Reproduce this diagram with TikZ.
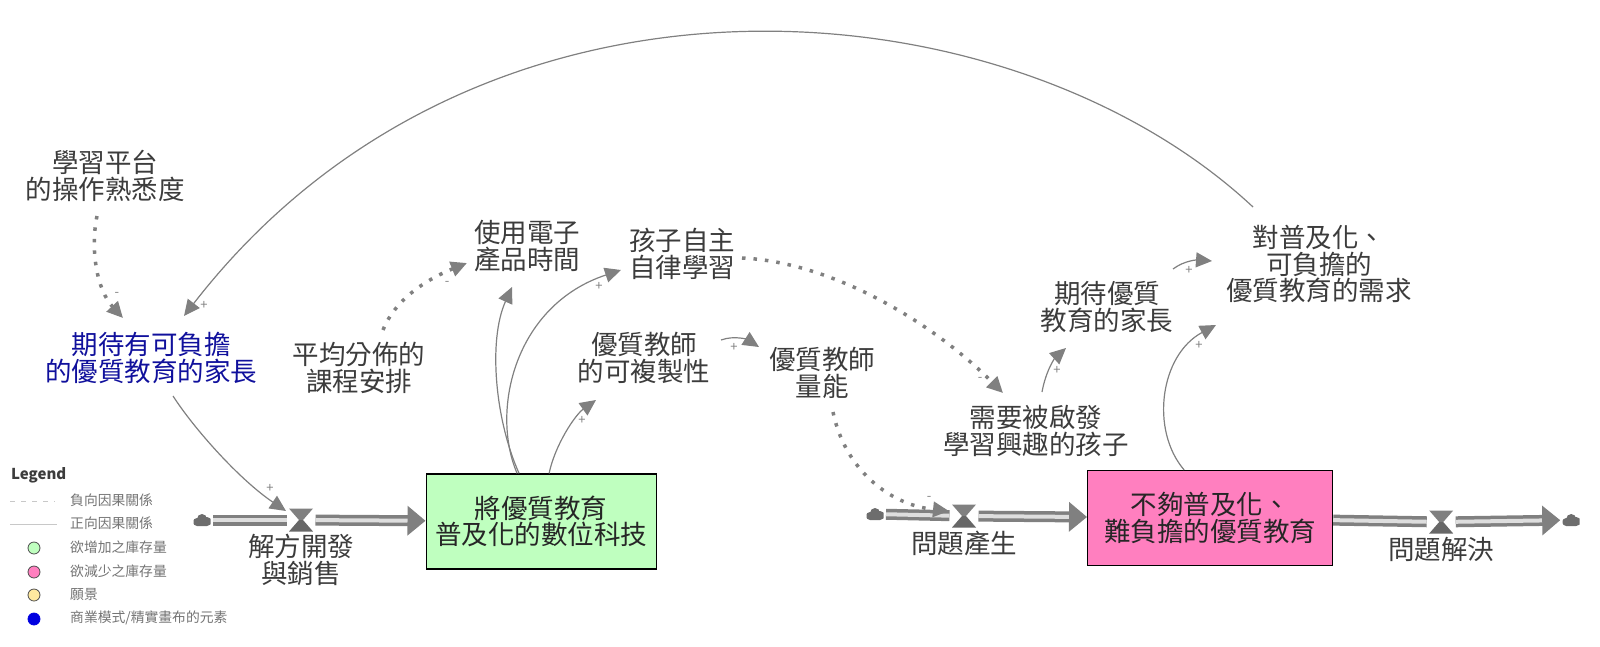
\documentclass[tikz,border=0pt]{standalone}
\usepackage{fontspec}
\setmainfont{Noto Sans CJK TC}
\usepackage{xcolor}
\usetikzlibrary{arrows.meta,positioning}
\definecolor{LoopGray}{HTML}{808080}
\definecolor{PipeLight}{HTML}{DEDEDE}
\definecolor{TextDark}{HTML}{3C3C3C}
\definecolor{ParentBlue}{HTML}{10109C}
\definecolor{StockGreen}{HTML}{BFFFBF}
\definecolor{StockPink}{HTML}{FF7FBF}
\definecolor{VisionYellow}{HTML}{FFE9A0}
\definecolor{CanvasBlue}{HTML}{0000E0}
\tikzset{
  factor/.style={align=center,inner sep=0pt,text=TextDark,font=\fontsize{26.5}{26.5}\selectfont},
  parentfactor/.style={factor,text=ParentBlue},
  stock/.style={factor,draw=black,line width=1.2pt,text=black!85,minimum width=230pt,minimum height=95pt},
  cloudend/.style={minimum width=17pt,minimum height=12pt,inner sep=0pt,outer sep=2.5pt,path picture={
    \fill[LoopGray!85!black] ([shift={(-5,2)}]path picture bounding box.center) circle (4pt)
      ([shift={(0,-1)}]path picture bounding box.center) circle (5pt)
      ([shift={(5,1.5)}]path picture bounding box.center) circle (4.5pt)
      ([shift={(-5,0)}]path picture bounding box.center) rectangle ([shift={(5,6)}]path picture bounding box.center);}},
  valve/.style={minimum width=24pt,minimum height=23pt,inner sep=0pt,outer sep=2.5pt,path picture={
    \fill[LoopGray] (path picture bounding box.north west)--(path picture bounding box.north east)--([xshift=2pt]path picture bounding box.center)--([xshift=-2pt]path picture bounding box.center)--cycle;
    \fill[LoopGray!80!black] (path picture bounding box.south west)--(path picture bounding box.south east)--([xshift=2pt]path picture bounding box.center)--([xshift=-2pt]path picture bounding box.center)--cycle;}},
  pipe/.style={draw=LoopGray,line width=3.5pt,double=PipeLight,double distance=4pt},
  pipein/.style={pipe,-{Triangle[length=18pt,width=29pt,fill=LoopGray]}},
  link/.style={-{Triangle[length=16pt,width=15pt,fill=LoopGray]},line width=1.2pt,draw=LoopGray},
  dotlink/.style={link,line width=3.5pt,dash pattern=on 3.5pt off 8pt},
  signmark/.style={inner sep=0pt,text=LoopGray,font=\fontsize{13}{13}\selectfont},
  legendtext/.style={anchor=west,inner sep=0pt,text=LoopGray!90!black,font=\fontsize{13.8}{14}\selectfont},
  legenddot/.style={circle,draw=black!70,line width=.8pt,minimum size=12pt,inner sep=0pt}
}
\begin{document}
\begin{tikzpicture}[x=1pt,y=-1pt]
  \useasboundingbox (0,0) rectangle (1600,646);
  \node[factor] (learn) at (105,176) {學習平台\\的操作熟悉度};
  \node[parentfactor] (parents) at (151,358) {期待有可負擔\\的優質教育的家長};
  \node[factor] (course) at (359,368) {平均分佈的\\課程安排};
  \node[factor] (screen) at (527,246) {使用電子\\產品時間};
  \node[factor] (selfstudy) at (682,254) {孩子自主\\自律學習};
  \node[factor] (copy) at (644,358) {優質教師\\的可複製性};
  \node[factor] (teacher) at (822,373) {優質教師\\量能};
  \node[factor] (spark) at (1036,431) {需要被啟發\\學習興趣的孩子};
  \node[factor] (expect) at (1107,307) {期待優質\\教育的家長};
  \node[factor] (demand) at (1319,264) {對普及化、\\可負擔的\\優質教育的需求};

  \node[cloudend] (cloudA) at (202,520) {};
  \node[valve,right=73.5pt of cloudA] (valveA) {};
  \node[stock,fill=StockGreen,right=110pt of valveA,yshift=-1.5pt] (stockA) {將優質教育\\普及化的數位科技};
  \node[factor,below=0pt of valveA] (develop) {解方開發\\與銷售};

  \node[cloudend] (cloudB) at (875,514) {};
  \node[valve,right=63.5pt of cloudB,yshift=-2pt] (valveB) {};
  \node[stock,fill=StockPink,right=108.5pt of valveB,yshift=-2pt,minimum width=245pt] (stockB) {不夠普及化、\\難負擔的優質教育};
  \node[valve,right=93.5pt of stockB,yshift=-4pt] (valveC) {};
  \node[cloudend,right=104.5pt of valveC,yshift=2pt] (cloudC) {};
  \node[factor,below=1pt of valveB] (arise) {問題產生};
  \node[factor,below=1pt of valveC] (solve) {問題解決};

  \draw[pipe] (cloudA) -- (valveA);
  \draw[pipein] (valveA) -- (stockA);
  \draw[pipe] (cloudB) -- (valveB);
  \draw[pipein] (valveB) -- (stockB);
  \draw[pipe] (stockB) -- (valveC);
  \draw[pipein] (valveC) -- (cloudC);

  \draw[link] ([shift={(-66,-57)}]demand.center) .. controls (1010,-20) and (480,-66) .. ([shift={(33,-42)}]parents.center);
  \draw[link] ([shift={(22,38)}]parents.center) .. controls (195,430) and (240,480) .. ([shift={(-15,-9)}]valveA.center);
  \draw[dotlink] ([shift={(-8,40)}]learn.center) .. controls (90,250) and (97,290) .. ([shift={(-28,-40)}]parents.center);
  \draw[dotlink] ([shift={(24,-38)}]course.center) .. controls (395,300) and (425,280) .. ([shift={(-60,17)}]screen.center);
  \draw[link] ([shift={(-22,0)}]stockA.north) .. controls (495,420) and (488,340) .. ([shift={(-15,41)}]screen.center);
  \draw[link] ([shift={(-24,0)}]stockA.north) .. controls (490,410) and (515,305) .. ([shift={(-61,16)}]selfstudy.center);
  \draw[link] ([shift={(8,0)}]stockA.north) .. controls (555,445) and (575,415) .. ([shift={(-48,42)}]copy.center);
  \draw[link] ([shift={(77,-18)}]copy.center) .. controls (735,335) and (748,340) .. ([shift={(-63,-26)}]teacher.center);
  \draw[dotlink] ([shift={(60,4)}]selfstudy.center) .. controls (830,262) and (930,320) .. ([shift={(-33,-38)}]spark.center);
  \draw[dotlink] ([shift={(11,39)}]teacher.center) .. controls (845,470) and (890,505) .. ([shift={(-15,-5)}]valveB.center);
  \draw[link] ([shift={(6,-39)}]spark.center) .. controls (1046,370) and (1055,358) .. ([shift={(-41,41)}]expect.center);
  \draw[link] ([shift={(66,-38)}]expect.center) .. controls (1185,260) and (1198,260) .. ([shift={(-107,-3)}]demand.center);
  \draw[link] ([shift={(-26,0)}]stockB.north) .. controls (1150,430) and (1160,355) .. ([shift={(-103,61)}]demand.center);

  \node[signmark] (plusParents) at (204,305) {+};
  \node[signmark] (plusValve) at (270,488) {+};
  \node[signmark] (minusParents) at (117,294) {-};
  \node[signmark] (minusScreen) at (447,283) {-};
  \node[signmark] (plusSelf) at (599,286) {+};
  \node[signmark] (plusCopy) at (582,420) {+};
  \node[signmark] (plusTeacher) at (734,347) {+};
  \node[signmark] (minusSpark) at (980,379) {-};
  \node[signmark] (minusValve) at (929,498) {-};
  \node[signmark] (plusExpect) at (1057,370) {+};
  \node[signmark] (plusDemandA) at (1189,270) {+};
  \node[signmark] (plusDemandB) at (1199,345) {+};

  \node[anchor=west,inner sep=0pt,text=TextDark,font=\fontsize{15}{15}\selectfont\bfseries] (legend) at (11,475) {Legend};
  \node[legendtext] (legNeg) at (70,500) {負向因果關係};
  \node[legendtext] (legPos) at (70,523) {正向因果關係};
  \node[legendtext] (legGreen) at (70,547) {欲增加之庫存量};
  \node[legendtext] (legPink) at (70,571) {欲減少之庫存量};
  \node[legendtext] (legVision) at (70,594) {願景};
  \node[legendtext] (legCanvas) at (70,618) {商業模式/精實畫布的元素};
  \coordinate (negA) at (10,501);
  \coordinate (negB) at (55,501);
  \coordinate (posA) at (10,524);
  \coordinate (posB) at (57,524);
  \draw[PipeLight!90!black,dash pattern=on 5pt off 6pt] (negA) -- (negB);
  \draw[PipeLight!90!black] (posA) -- (posB);
  \node[legenddot,fill=StockGreen] (dotGreen) at (34,548) {};
  \node[legenddot,fill=StockPink] (dotPink) at (34,572) {};
  \node[legenddot,fill=VisionYellow] (dotVision) at (34,595) {};
  \node[legenddot,fill=CanvasBlue,draw=CanvasBlue] (dotCanvas) at (34,619) {};
\end{tikzpicture}
\end{document}
